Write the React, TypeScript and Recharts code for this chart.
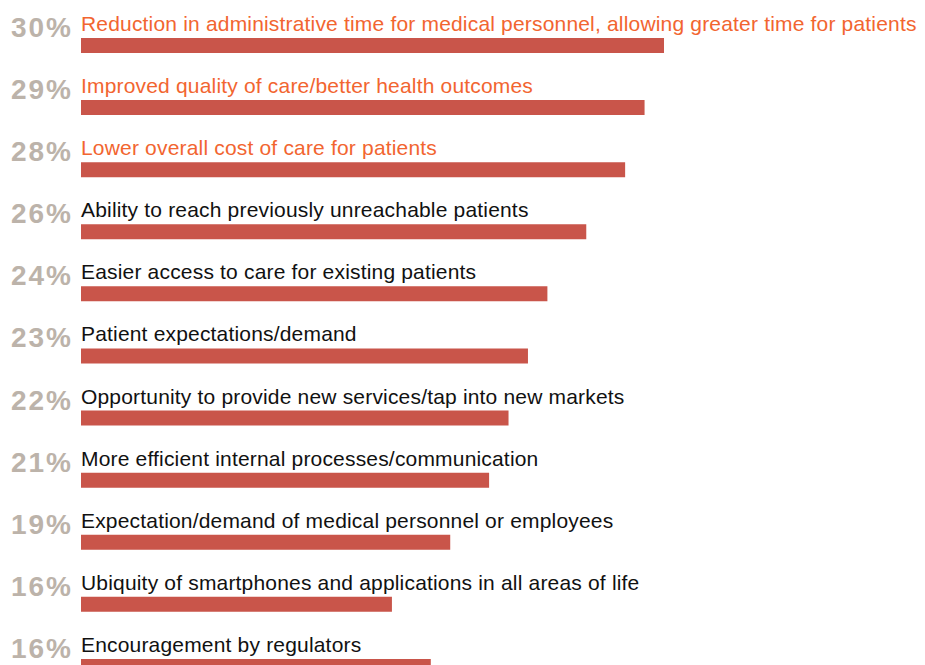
import React from 'react';
import { BarChart, Bar, XAxis, YAxis, LabelList } from 'recharts';

// Drivers listed in the survey, top to bottom
const categories = [
  'Reduction in administrative time for medical personnel, allowing greater time for patients',
  'Improved quality of care/better health outcomes',
  'Lower overall cost of care for patients',
  'Ability to reach previously unreachable patients',
  'Easier access to care for existing patients',
  'Patient expectations/demand',
  'Opportunity to provide new services/tap into new markets',
  'More efficient internal processes/communication',
  'Expectation/demand of medical personnel or employees',
  'Ubiquity of smartphones and applications in all areas of life',
  'Encouragement by regulators',
];

// Bar lengths as drawn
const values = [30, 29, 28, 26, 24, 23, 22, 21, 19, 16, 18];

// Percentages printed next to each bar
const percentLabels = ['30%', '29%', '28%', '26%', '24%', '23%', '22%', '21%', '19%', '16%', '16%'];

// The first three drivers are highlighted
const highlighted = [true, true, true, false, false, false, false, false, false, false, false];

const data = categories.map((name, i) => ({
  name,
  value: values[i],
  pct: percentLabels[i],
  hot: highlighted[i],
}));

const FONT = '"Liberation Sans", Arial, Helvetica, sans-serif';

const RowLabel = (props: any) => {
  const { x, y, index } = props;
  const row = data[index];
  return (
    <g>
      <text
        x={x - 8}
        y={y - 1}
        textAnchor="end"
        fontFamily={FONT}
        fontWeight="bold"
        fontSize={28}
        letterSpacing={2}
        fill="#bcb3aa"
      >
        {row.pct}
      </text>
      <text
        x={x}
        y={y - 7}
        fontFamily={FONT}
        fontSize={21}
        letterSpacing={0.18}
        fill={row.hot ? '#f26530' : '#111111'}
      >
        {row.name}
      </text>
    </g>
  );
};

export default function App() {
  return (
    <div style={{ width: 917, height: 690 }}>
      <BarChart
        width={917}
        height={690}
        data={data}
        layout="vertical"
        margin={{ top: 6, right: 261, bottom: 1, left: 73 }}
        style={{ overflow: 'visible' }}
      >
        <XAxis type="number" domain={[0, 30]} hide />
        <YAxis type="category" dataKey="name" hide />
        <Bar dataKey="value" fill="#c9554a" barSize={15} isAnimationActive={false}>
          <LabelList dataKey="name" content={RowLabel} />
        </Bar>
      </BarChart>
    </div>
  );
}
